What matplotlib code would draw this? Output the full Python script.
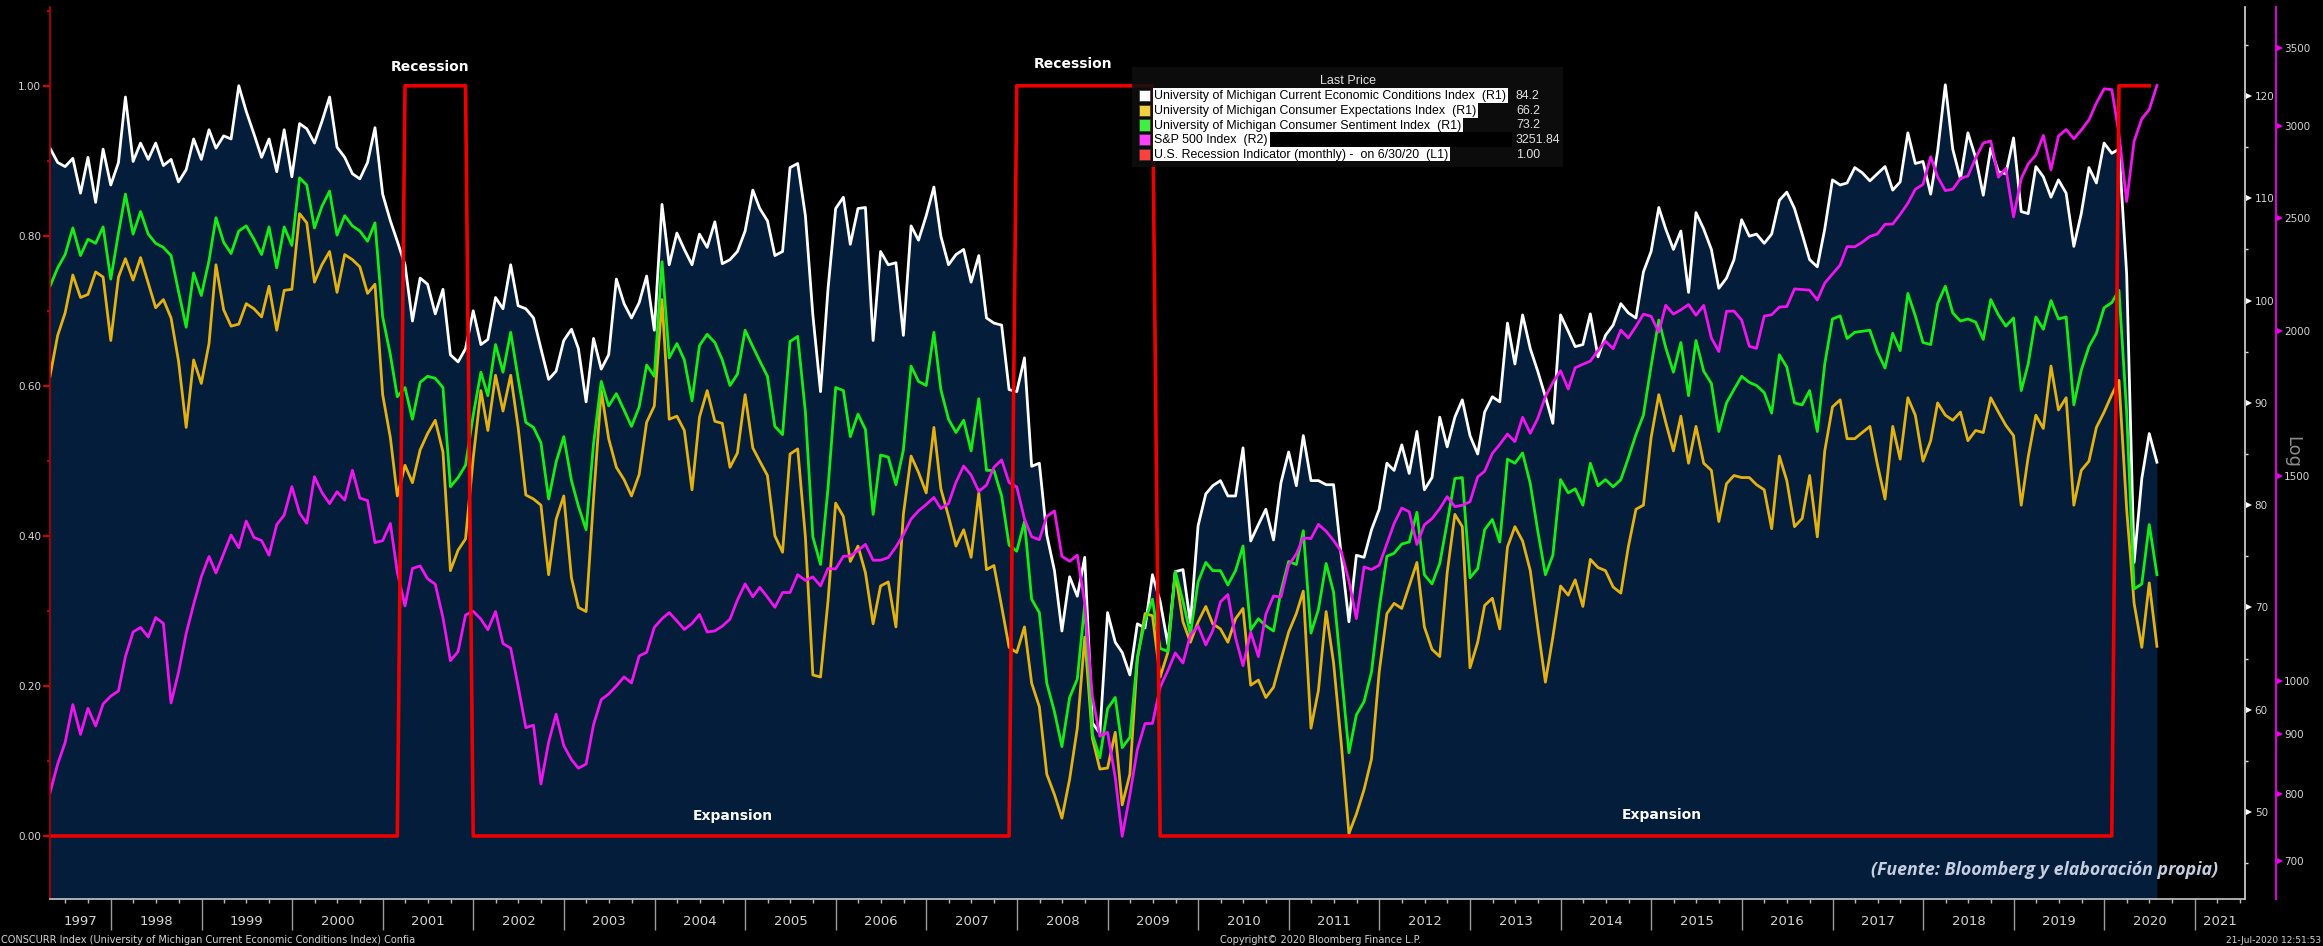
import numpy as np
import pandas as pd
import matplotlib
matplotlib.use("Agg")
import matplotlib.pyplot as plt
import matplotlib.dates as mdates
import matplotlib.patches as ptchs
import matplotlib.transforms as mtrans
from datetime import datetime

W, H = 2323, 946
NAVY = "#041d3a"
C_WHITE = "#ffffff"
C_YELLOW = "#e4b210"
C_GREEN = "#14ee14"
C_MAGENTA = "#f014f0"
C_RED = "#ee0000"
C_TXT = "#d4d4d4"

# ---- monthly data, Apr 1997 .. Jul 2020 ----
# U. Michigan Current Economic Conditions (R1)
current = [
    114.9, 113.5, 113.1, 113.9, 110.5, 114.0, 109.6, 114.8, 111.3,
    113.5, 119.9, 113.6, 115.4, 113.8, 115.4, 113.2, 113.8, 111.6, 112.8, 115.8, 113.8,
    116.7, 114.9, 116.1, 115.8, 121.0, 118.5, 116.3, 114.0, 115.8, 112.6, 116.7, 112.1,
    117.3, 116.8, 115.4, 117.5, 119.9, 115.0, 114.0, 112.4, 111.9, 113.5, 116.9, 110.4,
    107.8, 105.8, 103.5, 98.0, 102.2, 101.6, 98.7, 101.1, 94.7, 94.0, 95.3, 99.0,
    95.7, 96.2, 100.3, 99.2, 103.5, 99.5, 99.2, 98.3, 95.3, 92.3, 93.1, 96.1,
    97.2, 95.3, 90.1, 96.3, 93.3, 94.7, 102.1, 99.7, 98.3, 99.8, 102.4, 97.1,
    109.4, 103.5, 106.6, 105.0, 103.5, 106.5, 105.2, 107.7, 103.6, 104.0, 104.8, 106.8,
    110.8, 109.0, 107.8, 104.4, 104.8, 113.0, 113.4, 108.3, 98.6, 91.1, 101.1, 109.0,
    110.1, 105.5, 109.0, 109.1, 96.1, 104.8, 103.5, 103.7, 96.6, 107.3, 105.9, 108.3,
    111.1, 106.3, 103.5, 104.5, 105.0, 101.8, 104.4, 98.3, 97.8, 97.6, 91.3, 91.1,
    94.4, 83.8, 84.1, 77.1, 73.6, 67.7, 73.0, 71.1, 74.9, 58.7, 57.7, 69.5,
    66.6, 65.6, 63.4, 68.4, 68.0, 73.2, 70.6, 66.4, 73.5, 73.7, 68.5, 78.0,
    81.1, 81.9, 82.4, 80.9, 80.9, 85.6, 76.5, 78.1, 79.6, 76.6, 82.2, 85.2,
    81.9, 86.8, 82.4, 82.4, 82.0, 82.0, 75.1, 68.6, 75.1, 74.9, 77.6, 79.6,
    84.1, 83.4, 85.9, 83.1, 87.2, 81.5, 82.7, 88.6, 85.7, 88.6, 90.3, 86.8,
    85.0, 89.1, 90.6, 90.1, 97.8, 93.8, 98.6, 95.3, 93.1, 90.6, 88.0, 98.6,
    97.0, 95.5, 95.7, 98.7, 94.5, 96.6, 97.6, 99.7, 98.8, 98.3, 102.8, 104.8,
    109.1, 107.0, 105.0, 106.8, 100.8, 108.6, 107.0, 105.0, 101.2, 102.2, 104.0, 107.9,
    106.3, 106.5, 105.6, 106.5, 109.8, 110.6, 109.0, 106.5, 104.0, 103.3, 107.0, 111.8,
    111.3, 111.5, 113.0, 112.5, 111.7, 112.4, 113.1, 110.8, 111.6, 116.4, 113.4, 113.6,
    110.4, 114.6, 121.1, 114.8, 111.9, 116.4, 114.0, 110.3, 114.9, 112.6, 112.4, 115.9,
    108.7, 108.5, 113.1, 112.1, 110.1, 111.8, 110.5, 105.3, 108.5, 113.0, 111.5, 115.4,
    114.4, 114.8, 102.6, 74.4, 82.6, 87.0, 84.2,
]
# U. Michigan Consumer Expectations (R1)
expect = [
    92.6, 96.6, 98.8, 102.5, 100.3, 100.6, 102.8, 102.3, 96.1,
    102.3, 104.1, 102.0, 104.2, 101.7, 99.3, 100.1, 98.3, 94.1, 87.6, 94.2, 91.9,
    95.8, 103.5, 99.1, 97.5, 97.7, 99.7, 99.2, 98.4, 101.4, 97.1, 101.0, 101.1,
    108.5, 107.6, 101.8, 103.5, 104.8, 100.8, 104.5, 104.0, 103.3, 100.7, 101.6, 90.8,
    86.6, 80.9, 83.9, 82.2, 85.4, 87.0, 88.3, 85.2, 73.6, 75.6, 76.7, 84.6,
    91.2, 87.3, 92.7, 89.2, 92.7, 87.6, 81.0, 80.6, 80.0, 73.2, 78.6, 80.9,
    72.9, 70.0, 69.6, 80.6, 91.2, 86.5, 83.7, 82.5, 80.9, 83.0, 88.1, 89.7,
    100.1, 88.4, 88.7, 87.3, 81.5, 88.6, 91.2, 88.2, 88.0, 83.7, 85.1, 90.8,
    85.6, 84.3, 82.9, 77.0, 75.4, 85.0, 85.5, 76.9, 63.4, 63.2, 70.6, 80.2,
    78.9, 74.5, 76.0, 73.4, 68.4, 72.1, 72.5, 68.1, 79.1, 84.8, 83.2, 81.2,
    87.6, 81.6, 78.9, 76.0, 77.6, 74.9, 81.2, 73.7, 74.1, 70.1, 66.1, 65.6,
    68.1, 62.6, 60.3, 53.7, 51.7, 49.4, 53.2, 58.2, 67.1, 57.2, 54.2, 54.3,
    57.8, 50.7, 53.7, 64.9, 69.4, 69.2, 63.2, 65.6, 73.4, 68.6, 66.6, 68.6,
    70.1, 68.4, 67.9, 66.6, 68.9, 69.9, 62.4, 62.9, 61.2, 62.2, 64.9, 67.6,
    69.4, 71.6, 58.2, 61.9, 69.6, 64.6, 56.7, 47.9, 49.8, 52.2, 55.2, 63.7,
    69.4, 70.4, 69.9, 72.1, 74.4, 68.1, 65.9, 65.2, 73.4, 79.1, 77.9, 64.1,
    66.6, 70.2, 70.9, 67.9, 75.9, 77.9, 76.5, 73.6, 68.1, 62.7, 67.1, 72.1,
    71.2, 72.7, 70.1, 74.7, 73.9, 73.6, 72.0, 71.4, 75.9, 79.6, 80.0, 86.6,
    90.8, 88.1, 85.3, 88.7, 84.1, 87.7, 84.1, 83.4, 78.4, 82.1, 82.9, 82.7,
    82.7, 82.0, 81.5, 77.7, 84.8, 82.4, 77.9, 78.7, 82.9, 76.9, 85.3, 89.6,
    90.3, 86.5, 86.5, 87.1, 87.7, 84.0, 80.6, 87.7, 84.5, 90.5, 88.8, 84.3,
    86.3, 90.0, 88.8, 88.3, 89.1, 86.3, 87.3, 87.1, 90.5, 89.1, 87.8, 86.8,
    80.0, 84.7, 88.8, 87.5, 93.6, 89.3, 90.5, 80.0, 83.4, 84.3, 87.6, 89.1,
    90.8, 92.2, 79.6, 70.4, 66.1, 72.4, 66.2,
]
# U. Michigan Consumer Sentiment (R1)
sentiment = [
    101.4, 103.2, 104.5, 107.1, 104.4, 106.0, 105.6, 107.2, 102.1,
    106.6, 110.4, 106.5, 108.7, 106.5, 105.6, 105.2, 104.4, 100.9, 97.4, 102.7, 100.5,
    103.9, 108.1, 105.7, 104.6, 106.8, 107.3, 106.0, 104.5, 107.2, 103.2, 107.2, 105.4,
    112.0, 111.3, 107.1, 109.2, 110.7, 106.4, 108.3, 107.3, 106.8, 105.8, 107.6, 98.4,
    94.7, 90.6, 91.5, 88.4, 92.0, 92.6, 92.4, 91.5, 81.8, 82.7, 83.9, 88.8,
    93.0, 90.7, 95.7, 93.0, 96.9, 92.4, 88.1, 87.6, 86.1, 80.6, 84.2, 86.7,
    82.4, 79.9, 77.6, 86.0, 92.1, 89.7, 90.9, 89.3, 87.7, 89.6, 93.7, 92.6,
    103.8, 94.4, 95.8, 94.2, 90.2, 95.6, 96.7, 95.9, 94.2, 91.7, 92.8, 97.1,
    95.5, 94.1, 92.6, 87.7, 86.9, 96.0, 96.5, 89.1, 76.9, 74.2, 81.6, 91.5,
    91.2, 86.7, 88.9, 87.4, 79.1, 84.9, 84.7, 82.0, 85.4, 93.6, 92.1, 91.7,
    96.9, 91.3, 88.4, 87.1, 88.3, 85.3, 90.4, 83.4, 83.4, 80.9, 76.1, 75.5,
    78.4, 70.8, 69.5, 62.6, 59.8, 56.4, 61.2, 63.0, 70.3, 57.6, 55.3, 60.1,
    61.2, 56.3, 57.3, 65.1, 68.7, 70.8, 66.0, 65.7, 73.5, 70.6, 67.4, 72.5,
    74.4, 73.6, 73.6, 72.2, 73.6, 76.0, 67.8, 68.9, 68.2, 67.7, 71.6, 74.5,
    74.2, 77.5, 67.5, 69.8, 74.3, 71.5, 63.7, 55.8, 59.5, 60.8, 63.7, 69.9,
    75.0, 75.3, 76.2, 76.4, 79.3, 73.2, 72.3, 74.3, 78.3, 82.6, 82.7, 72.9,
    73.8, 77.6, 78.6, 76.4, 84.5, 84.1, 85.1, 82.1, 77.5, 73.2, 75.1, 82.5,
    81.2, 81.6, 80.0, 84.1, 81.9, 82.5, 81.8, 82.5, 84.6, 86.9, 88.8, 93.6,
    98.1, 95.4, 93.0, 95.9, 90.7, 96.1, 93.1, 91.9, 87.2, 90.0, 91.3, 92.6,
    92.0, 91.7, 91.0, 89.0, 94.7, 93.5, 90.0, 89.8, 91.2, 87.2, 93.8, 98.2,
    98.5, 96.3, 96.9, 97.0, 97.1, 95.0, 93.4, 96.8, 95.1, 100.7, 98.5, 95.9,
    95.7, 99.7, 101.4, 98.8, 98.0, 98.2, 97.9, 96.2, 100.1, 98.6, 97.5, 98.3,
    91.2, 93.8, 98.4, 97.2, 100.0, 98.2, 98.4, 89.8, 93.2, 95.5, 96.8, 99.3,
    99.8, 101.0, 89.1, 71.8, 72.3, 78.1, 73.2,
]
# S&P 500 month-end close (R2, log)
sp500 = [
    801.3, 848.3, 885.1, 954.3, 899.5, 947.3, 914.6, 955.4, 970.4,
    980.3, 1049.3, 1101.8, 1111.8, 1090.8, 1133.8, 1120.7, 957.3, 1017.0, 1098.7, 1163.6, 1229.2,
    1279.6, 1238.3, 1286.4, 1335.2, 1301.8, 1372.7, 1328.7, 1320.4, 1282.7, 1362.9, 1388.9, 1469.3,
    1394.5, 1366.4, 1498.6, 1452.4, 1420.6, 1454.6, 1430.8, 1517.7, 1436.5, 1429.4, 1315.2, 1320.3,
    1366.0, 1239.9, 1160.3, 1249.5, 1255.8, 1224.4, 1211.2, 1133.6, 1040.9, 1059.8, 1139.5, 1148.1,
    1130.2, 1106.7, 1147.4, 1076.9, 1067.1, 989.8, 911.6, 916.1, 815.3, 885.8, 936.3, 879.8,
    855.7, 841.2, 848.2, 916.9, 963.6, 974.5, 990.3, 1008.0, 996.0, 1050.7, 1058.2, 1111.9,
    1131.1, 1144.9, 1126.2, 1107.3, 1120.7, 1140.8, 1101.7, 1104.2, 1114.6, 1130.2, 1173.8, 1211.9,
    1181.3, 1203.6, 1180.6, 1156.9, 1191.5, 1191.3, 1234.2, 1220.3, 1228.8, 1207.0, 1249.5, 1248.3,
    1280.1, 1280.7, 1294.9, 1310.6, 1270.1, 1270.2, 1276.7, 1303.8, 1335.9, 1377.9, 1400.6, 1418.3,
    1438.2, 1406.8, 1420.9, 1482.4, 1530.6, 1503.4, 1455.3, 1474.0, 1526.8, 1549.4, 1481.1, 1468.4,
    1378.6, 1330.6, 1322.7, 1385.6, 1400.4, 1280.0, 1267.4, 1282.8, 1166.4, 968.8, 896.2, 903.3,
    825.9, 735.1, 797.9, 872.8, 919.1, 919.3, 987.5, 1020.6, 1057.1, 1036.2, 1095.6, 1115.1,
    1073.9, 1104.5, 1169.4, 1186.7, 1089.4, 1030.7, 1101.6, 1049.3, 1141.2, 1183.3, 1180.6, 1257.6,
    1286.1, 1327.2, 1325.8, 1363.6, 1345.2, 1320.6, 1292.3, 1218.9, 1131.4, 1253.3, 1247.0, 1257.6,
    1312.4, 1365.7, 1408.5, 1397.9, 1310.3, 1362.2, 1379.3, 1406.6, 1440.7, 1412.2, 1416.2, 1426.2,
    1498.1, 1514.7, 1569.2, 1597.6, 1630.7, 1606.3, 1685.7, 1633.0, 1681.6, 1756.5, 1805.8, 1848.4,
    1782.6, 1859.5, 1872.3, 1884.0, 1923.6, 1960.2, 1930.7, 2003.4, 1972.3, 2018.1, 2067.6, 2058.9,
    1995.0, 2104.5, 2067.9, 2085.5, 2107.4, 2063.1, 2103.8, 1972.2, 1920.0, 2079.4, 2080.4, 2043.9,
    1940.2, 1932.2, 2059.7, 2065.3, 2097.0, 2098.9, 2173.6, 2171.0, 2168.3, 2126.2, 2199.0, 2238.8,
    2278.9, 2363.6, 2362.7, 2384.2, 2411.8, 2423.4, 2470.3, 2471.7, 2519.4, 2575.3, 2647.6, 2673.6,
    2823.8, 2713.8, 2640.9, 2648.1, 2705.3, 2718.4, 2816.3, 2901.5, 2914.0, 2711.7, 2760.2, 2506.9,
    2704.1, 2784.5, 2834.4, 2945.8, 2752.1, 2941.8, 2980.4, 2926.5, 2976.7, 3037.6, 3141.0, 3230.8,
    3225.5, 2954.2, 2584.6, 2912.4, 3044.3, 3100.3, 3251.84,
]
# US recession indicator (L1): months flagged 1, data up to 6/30/20
REC_START = ["2001-03-01", "2007-12-01", "2020-02-01"]
REC_END = ["2001-11-30", "2009-06-30", "2020-06-30"]

YEARS = list(range(1997, 2022))
L_TICKS = [0.0, 0.2, 0.4, 0.6, 0.8, 1.0]
R1_TICKS = [50, 60, 70, 80, 90, 100, 110, 120]
R2_TICKS = [700, 800, 900, 1000, 1500, 2000, 2500, 3000, 3500]

LEG_LABELS = [
    "University of Michigan Current Economic Conditions Index  (R1)",
    "University of Michigan Consumer Expectations Index  (R1)",
    "University of Michigan Consumer Sentiment Index  (R1)",
    "S&P 500 Index  (R2)",
    "U.S. Recession Indicator (monthly) -  on 6/30/20  (L1)",
]
LEG_VALUES = ["84.2", "66.2", "73.2", "3251.84", "1.00"]
LEG_COLORS = ["#ffffff", "#f0d040", "#40f040", "#ff40ff", "#ff4040"]

# ---- build series ----
dates = (pd.date_range("1997-04-01", periods=len(current), freq="MS") + pd.offsets.MonthEnd(1)).to_pydatetime()
rec_dates = np.array([d for d in dates if d <= datetime(2020, 6, 30)])
recession = np.zeros(len(rec_dates))
for s, e in zip(REC_START, REC_END):
    s, e = pd.Timestamp(s).to_pydatetime(), pd.Timestamp(e).to_pydatetime()
    recession[[(s <= d <= e) for d in rec_dates]] = 1.0

XMIN, XMAX = datetime(1997, 4, 30), datetime(2021, 7, 21)
L_LIM = (-0.084, 1.105)
R1_LIM = (41.5, 128.7)
R2_LIM = (649.3, 3799.0)


def fx(x):
    return x / W


def fy(y):
    return 1 - y / H


fig = plt.figure(figsize=(W / 100, H / 100), dpi=100, facecolor="black")
ax_l = fig.add_axes([fx(50), fy(899), 2195 / W, 892 / H])
ax_r1 = ax_l.twinx()
ax_r2 = ax_l.twinx()
for z, a in [(1, ax_r1), (2, ax_r2), (3, ax_l)]:
    a.set_zorder(z)
    a.patch.set_visible(False)
    for s in a.spines.values():
        s.set_visible(False)

# R1: filled current conditions + the three Michigan lines
ax_r1.fill_between(dates, current, R1_LIM[0], color=NAVY, lw=0)
ax_r1.plot(dates, current, color=C_WHITE, lw=2.0)
ax_r1.plot(dates, expect, color=C_YELLOW, lw=2.0)
ax_r1.plot(dates, sentiment, color=C_GREEN, lw=2.0)
ax_r1.set_ylim(*R1_LIM)

# R2: S&P 500 on log scale
ax_r2.plot(dates, sp500, color=C_MAGENTA, lw=2.0)
ax_r2.set_yscale("log")
ax_r2.set_ylim(*R2_LIM)

# L1: recession indicator
ax_l.plot(rec_dates, recession, color=C_RED, lw=2.6)
ax_l.set_ylim(*L_LIM)
ax_l.set_xlim(XMIN, XMAX)

# ---- axes styling ----
ax_l.spines["left"].set_visible(True)
ax_l.spines["left"].set_color("#c00000")
ax_l.spines["left"].set_linewidth(1.2)
ax_l.spines["bottom"].set_visible(True)
ax_l.spines["bottom"].set_color("#c8c8c8")
ax_l.spines["bottom"].set_linewidth(1.2)
ax_l.set_yticks(L_TICKS)
ax_l.set_yticklabels([f"{v:.2f}" for v in L_TICKS])
ax_l.set_yticks(np.arange(0.1, 1.15, 0.2), minor=True)
ax_l.tick_params(axis="y", which="major", colors="#e00000", length=5, width=1.4,
                 labelcolor=C_TXT, labelsize=7.5, pad=1.5)
ax_l.tick_params(axis="y", which="minor", colors="#e00000", length=2.5, width=1.2)

ax_l.xaxis.set_major_locator(mdates.YearLocator())
ax_l.xaxis.set_minor_locator(mdates.MonthLocator(bymonth=[4, 7, 10]))
ax_l.tick_params(axis="x", which="major", length=22, width=1.0, colors="#9a9a9a", labelbottom=False)
ax_l.tick_params(axis="x", which="minor", length=3, width=1.0, colors="#bbbbbb")

ax_r1.spines["right"].set_visible(True)
ax_r1.spines["right"].set_color("#d8d8d8")
ax_r1.spines["right"].set_linewidth(1.2)
ax_r1.set_yticks(R1_TICKS)
ax_r1.set_yticklabels([str(v) for v in R1_TICKS])
ax_r1.set_yticks(np.arange(45, 130, 10), minor=True)
ax_r1.tick_params(axis="y", which="major", length=0, labelcolor=C_TXT, labelsize=7.5, pad=7)
ax_r1.tick_params(axis="y", which="minor", length=2.5, width=1.0, colors="#d8d8d8")

ax_r2.spines["right"].set_visible(True)
ax_r2.spines["right"].set_position(("outward", 22.3))
ax_r2.spines["right"].set_color("#e000e0")
ax_r2.spines["right"].set_linewidth(1.4)
ax_r2.set_yticks(R2_TICKS)
ax_r2.set_yticklabels([str(v) for v in R2_TICKS])
ax_r2.yaxis.set_minor_locator(matplotlib.ticker.NullLocator())
ax_r2.tick_params(axis="y", which="major", length=0, labelcolor=C_TXT, labelsize=7.5, pad=6)

# triangle tick marks on the right axes
shift1 = mtrans.ScaledTranslation(3.5 / 100, 0, fig.dpi_scale_trans)
tr1 = mtrans.blended_transform_factory(ax_r1.transAxes, ax_r1.transData) + shift1
ax_r1.plot([1] * len(R1_TICKS), R1_TICKS, ls="none", marker=">", ms=5, color="white",
           mew=0, transform=tr1, clip_on=False)
shift2 = mtrans.ScaledTranslation(34.5 / 100, 0, fig.dpi_scale_trans)
tr2 = mtrans.blended_transform_factory(ax_r2.transAxes, ax_r2.transData) + shift2
ax_r2.plot([1] * len(R2_TICKS), R2_TICKS, ls="none", marker=">", ms=5, color="#f000f0",
           mew=0, transform=tr2, clip_on=False)

fig.text(fx(2292), fy(452), "Log", rotation=270, color="#8c8c8c", fontsize=13,
         ha="center", va="center")

# year labels centred in the visible part of each year
narrow = ["Liberation Sans Narrow", "DejaVu Sans"]
trx = mtrans.blended_transform_factory(ax_l.transData, fig.transFigure)
x0n, x1n = mdates.date2num(XMIN), mdates.date2num(XMAX)
for yr in YEARS:
    a = max(mdates.date2num(datetime(yr, 1, 1)), x0n)
    b = min(mdates.date2num(datetime(yr + 1, 1, 1)), x1n)
    ax_l.text((a + b) / 2, fy(921), str(yr), transform=trx, ha="center", va="center",
              color=C_TXT, fontsize=9.5, family=narrow)

# annotations
for x, y, s in [(430, 67, "Recession"), (1073, 64, "Recession"),
                (733, 816, "Expansion"), (1662, 815, "Expansion")]:
    fig.text(fx(x), fy(y), s, color="white", fontsize=10, fontweight="bold",
             ha="center", va="center", zorder=10)
fig.text(fx(2218), fy(870), "(Fuente: Bloomberg y elaboración propia)", color="#c5cde0",
         fontsize=12.8, fontweight="bold", style="italic", ha="right", va="center",
         family=["Open Sans", "DejaVu Sans"], zorder=10)

# footer
fig.text(fx(1), fy(945), "CONSCURR Index (University of Michigan Current Economic Conditions Index) Confia",
         color=C_TXT, fontsize=7, ha="left", va="bottom")
fig.text(fx(1220), fy(945), "Copyright\u00a9 2020 Bloomberg Finance L.P.", color=C_TXT,
         fontsize=7, ha="left", va="bottom")
fig.text(fx(2321), fy(945), "21-Jul-2020 12:51:53", color=C_TXT, fontsize=6.5,
         ha="right", va="bottom")


# ---- Bloomberg style legend box ----
def rect(x, y, w, h, **kw):
    r = ptchs.Rectangle((fx(x), fy(y + h)), w / W, h / H, transform=fig.transFigure, **kw)
    fig.add_artist(r)
    return r


leg_font = ["Liberation Sans", "DejaVu Sans"]
rect(1132, 67, 431, 100, facecolor="#0e0e0e", alpha=0.88, lw=0, zorder=10)
fig.text(fx(1348), fy(81), "Last Price", color="#e0e0e0", fontsize=9, ha="center",
         va="center", family=leg_font, zorder=12)
row_top, row_h = 88.5, 14.6
renderer = fig.canvas.get_renderer()
for k, (lab, val, col) in enumerate(zip(LEG_LABELS, LEG_VALUES, LEG_COLORS)):
    yt = row_top + k * row_h
    t = fig.text(fx(1154), fy(yt + row_h / 2 + 0.5), lab, color="black", fontsize=8.95,
                 ha="left", va="center", family=leg_font, zorder=12)
    fig.text(fx(1516), fy(yt + row_h / 2 + 0.5), val, color="#e0e0e0", fontsize=8.95,
             ha="left", va="center", family=leg_font, zorder=12)
    x_end = t.get_window_extent(renderer).x1 + 2
    rect(1153, yt, x_end - 1153, row_h, facecolor="white", lw=0, zorder=11)
    rect(1139, yt + 1.8, 11, 11, facecolor=col, edgecolor="#333333", lw=0.5, zorder=11)
    if k == 3:
        rect(x_end, yt, 1512 - x_end, row_h, facecolor="black", lw=0, zorder=11)

fig.savefig("out.png", dpi=100, facecolor="black")
